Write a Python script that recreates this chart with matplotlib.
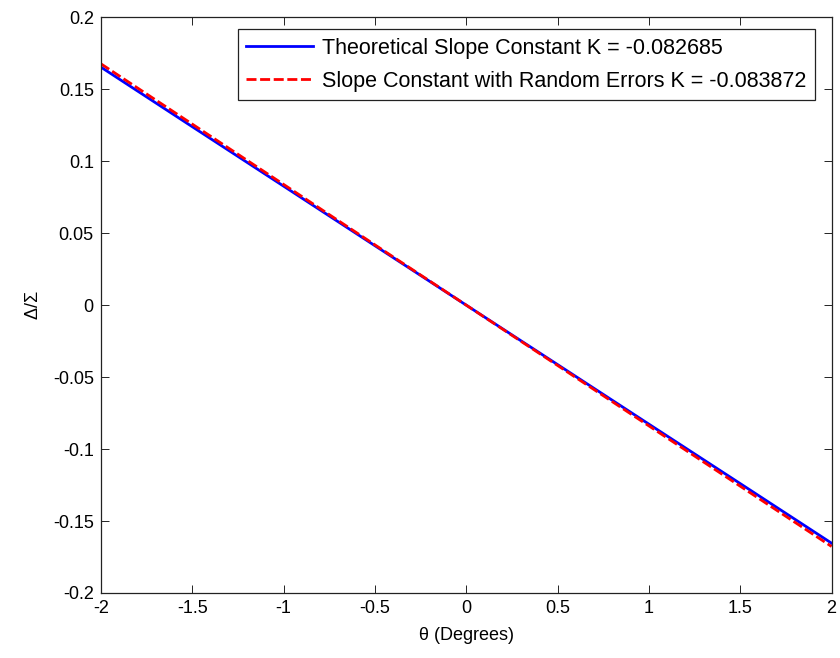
import matplotlib.pyplot as plt

plt.rcParams['font.family'] = ['Liberation Sans', 'DejaVu Sans']

# Angle values (degrees)
theta = [-2.0, -1.5, -1.0, -0.5, 0.0, 0.5, 1.0, 1.5, 2.0]
# Theoretical slope line
delta_theory = [0.1654, 0.1240, 0.0827, 0.0413, 0.0, -0.0413, -0.0827, -0.1240, -0.1654]
# Line with random errors
delta_noisy = [0.1677, 0.1258, 0.0839, 0.0419, 0.0, -0.0419, -0.0839, -0.1258, -0.1677]

label_theory = 'Theoretical Slope Constant K = -0.082685'
label_noisy = 'Slope Constant with Random Errors K = -0.083872'

x_ticks = [-2, -1.5, -1, -0.5, 0, 0.5, 1, 1.5, 2]
x_tick_labels = ['-2', '-1.5', '-1', '-0.5', '0', '0.5', '1', '1.5', '2']
y_ticks = [-0.2, -0.15, -0.1, -0.05, 0, 0.05, 0.1, 0.15, 0.2]
y_tick_labels = ['-0.2', '-0.15', '-0.1', '-0.05', '0', '0.05', '0.1', '0.15', '0.2']

fig = plt.figure(figsize=(8.4, 6.58), dpi=100)
ax = fig.add_axes([0.120, 0.0988, 0.870, 0.875])

ax.plot(theta, delta_theory, color='#0000ff', linewidth=2, label=label_theory)
ax.plot(theta, delta_noisy, color='#ff0000', linewidth=2, linestyle='--',
        dashes=(3.6, 1.3), label=label_noisy)

ax.set_xlim(-2, 2)
ax.set_ylim(-0.2, 0.2)
ax.set_xticks(x_ticks)
ax.set_xticklabels(x_tick_labels)
ax.set_yticks(y_ticks)
ax.set_yticklabels(y_tick_labels)
ax.tick_params(direction='in', top=True, right=True, labelsize=13,
               length=6, width=0.6, pad=5)
for s in ax.spines.values():
    s.set_linewidth(0.9)
    s.set_color('#222222')

ax.set_xlabel(r'$\mathregular{\theta}$ (Degrees)', fontsize=13, labelpad=6)
ax.set_ylabel(r'$\mathregular{\Delta/\Sigma}$', fontsize=13, labelpad=8)

leg = ax.legend(loc='upper right', bbox_to_anchor=(0.977, 0.979), borderaxespad=0,
                fontsize=15.5, fancybox=False, framealpha=1, edgecolor='#222222',
                handlelength=3.1, handletextpad=0.4, borderpad=0.4,
                labelspacing=0.55)
leg.get_frame().set_linewidth(0.9)

fig.savefig('out.png', dpi=100)
